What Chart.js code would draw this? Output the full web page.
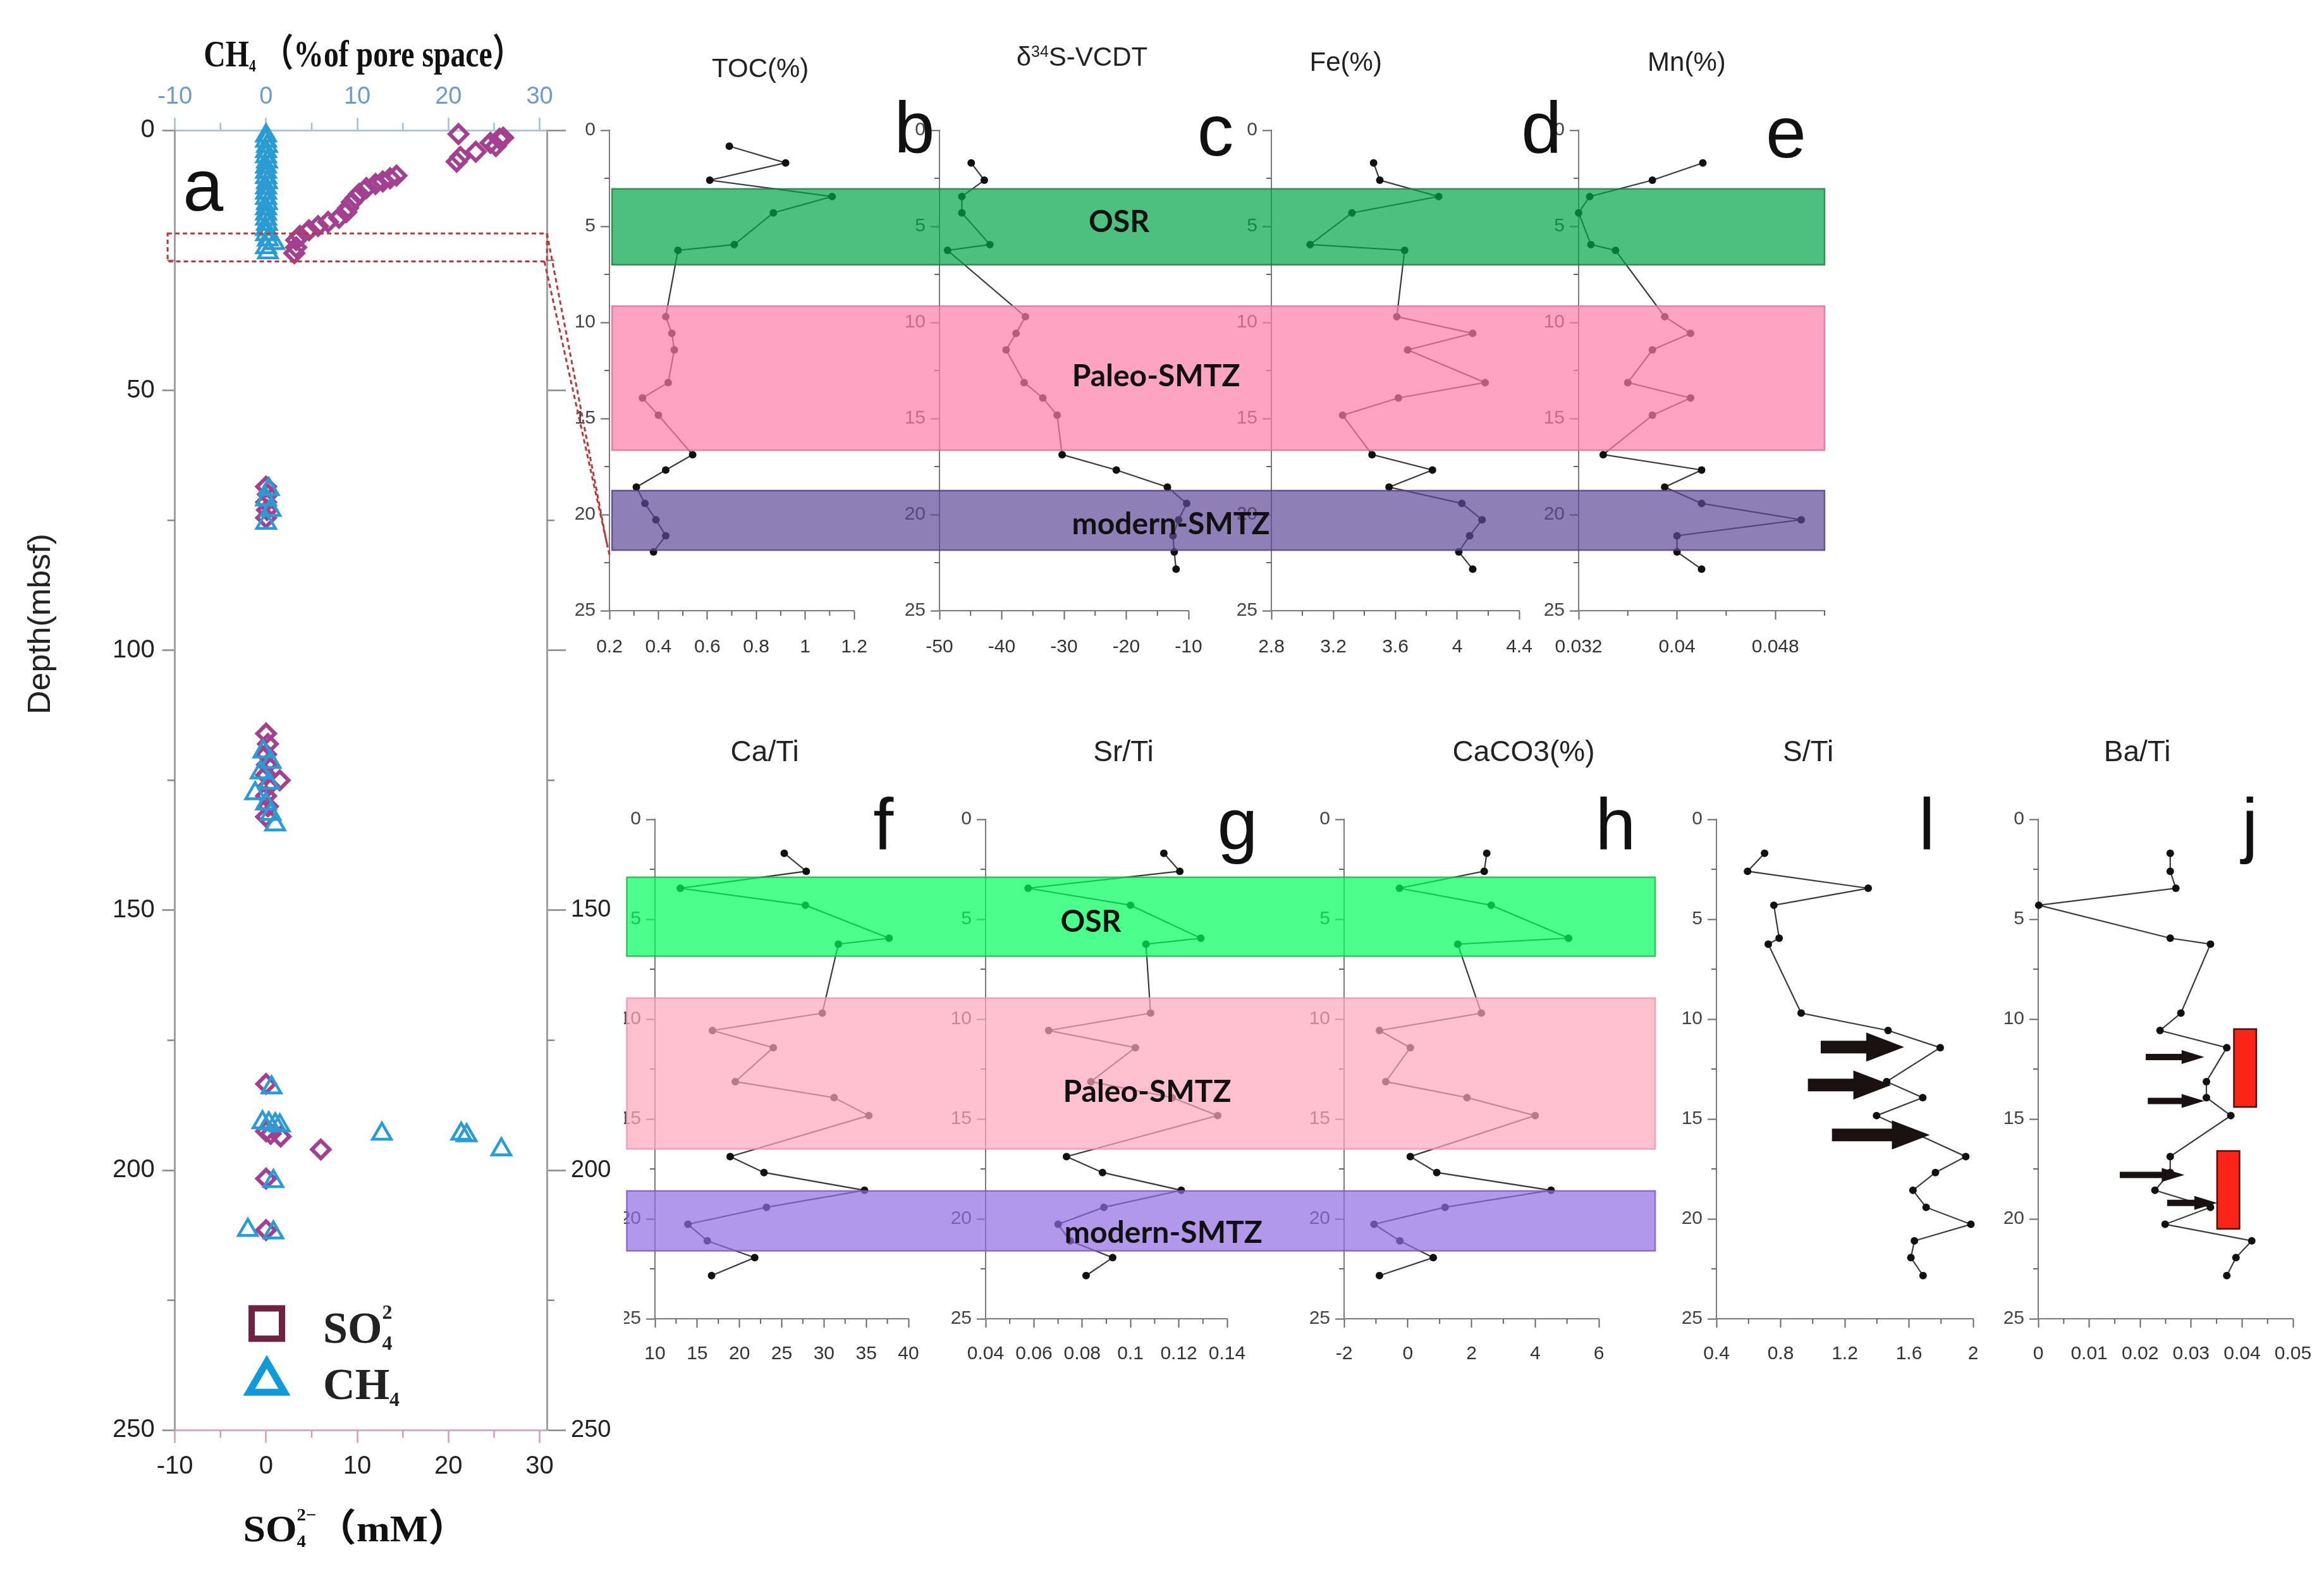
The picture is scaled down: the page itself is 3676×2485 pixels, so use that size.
<!DOCTYPE html>
<html><head><meta charset="utf-8">
<script src="https://cdn.jsdelivr.net/npm/chart.js@4.4.1/dist/chart.umd.min.js"></script>
<style>
html,body{margin:0;padding:0;background:#fff;width:3676px;height:2485px;overflow:hidden;position:relative}
canvas{position:absolute}
</style></head><body>
<script>
// ================= DATA =================
// Panel a : pore-water profiles
const so4Depth = [0.7, 1.4, 1.6, 2.4, 3.0, 4.1, 5.1, 6.0,
  8.7, 9.2, 9.8, 10.3, 11.1, 12.2, 13.0, 13.8, 14.9, 15.7, 16.8, 17.6, 18.4, 19.2, 20.3, 21.1, 22.5, 23.6,
  68.5, 70.0, 71.5, 73.0, 74.5,
  116, 118, 120, 122, 124, 125, 126, 128, 130, 132,
  183.4, 192.5, 193.0, 193.5, 196.0, 201.6, 211.5];
const so4Conc = [21.1, 26.0, 25.6, 24.6, 25.2, 23.0, 21.3, 20.9,
  14.3, 13.6, 12.8, 12.0, 11.0, 10.2, 9.8, 9.4, 9.0, 8.8, 8.0, 6.8, 5.7, 4.7, 3.7, 3.3, 3.3, 3.1,
  0.0, 0.2, 0.0, 0.1, 0.0,
  0.0, 0.2, 0.0, 0.1, 0.0, 1.5, 0.3, 0.0, 0.2, 0.0,
  0.0, 0.0, 0.5, 1.6, 6.0, 0.0, 0.0];
const ch4Depth = [1.0, 2.0, 3.0, 4.0, 5.0, 6.0, 7.0, 8.0, 9.0, 10.0, 11.0, 12.0, 13.0, 14.0, 15.0, 16.0, 17.0, 18.0, 19.0, 20.0, 21.0, 21.7, 22.5, 23.5,
  69.0, 71.0, 73.0, 75.5,
  119.5, 121.5, 123.5, 125.5, 127.5, 129.5, 131.5, 133.5,
  184.1, 190.8, 191.0, 191.2, 191.4, 193.0, 193.0, 193.3, 196.0, 202.1, 211.5, 212.0];
const ch4Pct = [0.0, 0.0, 0.1, 0.0, 0.0, 0.1, 0.0, 0.0, 0.0, 0.1, 0.0, 0.0, 0.0, 0.1, 0.0, 0.0, 0.0, 0.1, 0.0, 0.0, 0.2, 0.9, 0.0, 0.2,
  0.3, 0.0, 0.5, 0.0,
  -0.3, 0.5, -0.6, 0.3, -1.2, 0.0, 0.5, 1.0,
  0.6, -0.4, 0.3, 1.0, 1.5, 12.7, 21.4, 22.0, 25.8, 0.8, -2.0, 0.8];

// Sediment samples (depth, mbsf)
const sampleDepth = [1.7, 2.6, 3.45, 4.3, 5.95, 6.25, 9.7, 10.57, 11.43, 13.13, 13.93, 14.83, 16.88, 17.68, 18.57, 19.42, 20.27, 21.1, 21.94, 22.84];
const tocDepth = [0.83, 1.7, 2.6, 3.45, 4.3, 5.95, 6.25, 9.7, 10.57, 11.43, 13.13, 13.93, 14.83, 16.88, 17.68, 18.57, 19.42, 20.27, 21.1, 21.94];
const tocPct = [0.69, 0.92, 0.61, 1.11, 0.87, 0.71, 0.48, 0.43, 0.455, 0.465, 0.44, 0.335, 0.40, 0.54, 0.43, 0.31, 0.345, 0.39, 0.43, 0.38];
const d34S = [-44.9, -42.8, -46.4, -46.4, -41.9, -48.7, -36.2, -37.7, -39.3, -36.4, -33.4, -31.1, -30.3, -21.6, -13.4, -10.3, -11.6, -12.5, -12.3, -12.0];
const fePct = [3.46, 3.50, 3.88, 3.32, 3.05, 3.66, 3.61, 4.10, 3.68, 4.18, 3.62, 3.26, 3.45, 3.84, 3.56, 4.03, 4.16, 4.08, 4.01, 4.10];
const mnPct = [0.0421, 0.0380, 0.0329, 0.0320, 0.0330, 0.0350, 0.0390, 0.0411, 0.0380, 0.0360, 0.0411, 0.0380, 0.0340, 0.0420, 0.0390, 0.0420, 0.0501, 0.0400, 0.0400, 0.0420];
const caTi = [25.3, 27.9, 13.0, 27.8, 37.7, 31.7, 29.8, 16.8, 24.0, 19.5, 31.2, 35.3, 18.9, 22.9, 34.8, 23.2, 13.9, 16.2, 21.8, 16.7];
const srTi = [0.1138, 0.1204, 0.0576, 0.1000, 0.1291, 0.1064, 0.1083, 0.0661, 0.1020, 0.0836, 0.1173, 0.1361, 0.0735, 0.0884, 0.1210, 0.0890, 0.0700, 0.0750, 0.0926, 0.0816];
const caco3Pct = [2.48, 2.40, -0.26, 2.62, 5.05, 1.57, 2.31, -0.89, 0.08, -0.69, 1.86, 4.0, 0.08, 0.91, 4.5, 1.17, -1.06, -0.25, 0.8, -0.89];
const sTi = [0.70, 0.594, 1.346, 0.758, 0.791, 0.723, 0.928, 1.47, 1.795, 1.461, 1.686, 1.398, 1.954, 1.765, 1.625, 1.707, 1.986, 1.634, 1.612, 1.688];
const baTi = [0.0259, 0.0259, 0.0270, 0.0001, 0.0259, 0.0338, 0.0280, 0.0239, 0.0370, 0.0330, 0.0330, 0.0378, 0.0259, 0.0259, 0.0229, 0.0338, 0.0249, 0.0419, 0.0388, 0.0370];

// zones (depth top, depth bottom)
const zoneNames = ['OSR', 'Paleo-SMTZ', 'modern-SMTZ'];
const zonesTop = [[3.05, 7.0], [9.15, 16.65], [18.75, 21.85]];
const zonesBottom = [[2.9, 6.85], [8.95, 16.5], [18.6, 21.6]];

// annotation marks (depth, from value, to value)
const sTiArrowDepth = [11.4, 13.3, 15.8], sTiArrowFrom = [1.05, 0.97, 1.12], sTiArrowTo = [1.57, 1.49, 1.73];
const baTiArrowDepth = [11.9, 14.1, 17.8, 19.2], baTiArrowFrom = [0.0211, 0.0215, 0.0160, 0.0253], baTiArrowTo = [0.0326, 0.0326, 0.0287, 0.0351];
const baTiRectTop = [10.5, 16.6], baTiRectBottom = [14.4, 20.5], baTiRectFrom = [0.0384, 0.0351], baTiRectTo = [0.0428, 0.0395];

// tick values
const aConcTicks = [-10, 0, 10, 20, 30], aConcMinor = [-5, 5, 15, 25];
const aDepthTicks = [0, 50, 100, 150, 200, 250], aDepthMinor = [25, 75, 125, 175, 225];
const depthTicks = [0, 5, 10, 15, 20, 25], depthMinor = [2.5, 7.5, 12.5, 17.5, 22.5];
const tocTicks = [0.2, 0.4, 0.6, 0.8, 1, 1.2], tocMinor = [0.3, 0.5, 0.7, 0.9, 1.1];
const d34Ticks = [-50, -40, -30, -20, -10], d34Minor = [-45, -35, -25, -15];
const feTicks = [2.8, 3.2, 3.6, 4, 4.4], feMinor = [3, 3.4, 3.8, 4.2];
const mnTicks = [0.032, 0.04, 0.048], mnMinor = [0.036, 0.044, 0.052];
const caTiTicks = [10, 15, 20, 25, 30, 35, 40], caTiMinor = [12.5, 17.5, 22.5, 27.5, 32.5, 37.5];
const srTiTicks = [0.04, 0.06, 0.08, 0.1, 0.12, 0.14], srTiMinor = [0.05, 0.07, 0.09, 0.11, 0.13];
const caco3Ticks = [-2, 0, 2, 4, 6], caco3Minor = [-1, 1, 3, 5];
const sTiTicks = [0.4, 0.8, 1.2, 1.6, 2], sTiMinor = [0.6, 1, 1.4, 1.8];
const baTiTicks = [0, 0.01, 0.02, 0.03, 0.04, 0.05], baTiMinor = [0.005, 0.015, 0.025, 0.035, 0.045];

// ================= LAYOUT =================
const S = 3676 / 1568;   // layout constants are given in 1568-wide units
const SANS = "'Liberation Sans', Arial, sans-serif";
const SERIF = "'Liberation Serif', 'Times New Roman', 'Noto Sans CJK SC', serif";
Chart.defaults.font.family = SANS;
Chart.defaults.color = '#333';

function fmt(v) { return String(Math.round(v * 100000) / 100000); }

function makeCanvas(x, y, w, h, z) {
  const c = document.createElement('canvas');
  c.width = Math.round(w); c.height = Math.round(h);
  c.style.left = Math.round(x) + 'px'; c.style.top = Math.round(y) + 'px';
  c.style.width = Math.round(w) + 'px'; c.style.height = Math.round(h) + 'px';
  c.style.zIndex = z;
  document.body.appendChild(c);
  return c;
}

const minorTickPlugin = {
  id: 'minorTicks',
  afterDraw(chart, args, opts) {
    const ctx = chart.ctx, a = chart.chartArea;
    ctx.save();
    (opts.list || []).forEach(m => {
      const sc = chart.scales[m.id];
      ctx.strokeStyle = m.color; ctx.lineWidth = m.width || 2;
      m.values.forEach(v => {
        const p = sc.getPixelForValue(v);
        ctx.beginPath();
        if (m.side === 'bottom') { ctx.moveTo(p, a.bottom); ctx.lineTo(p, a.bottom + m.len); }
        if (m.side === 'top') { ctx.moveTo(p, a.top); ctx.lineTo(p, a.top - m.len); }
        if (m.side === 'left') { ctx.moveTo(a.left, p); ctx.lineTo(a.left - m.len, p); }
        if (m.side === 'right') { ctx.moveTo(a.right, p); ctx.lineTo(a.right + m.len, p); }
        ctx.stroke();
      });
    });
    ctx.restore();
  }
};

const whiteBg = {
  id: 'whiteBg',
  beforeDraw(chart) { const c = chart.ctx; c.save(); c.fillStyle = '#fff'; c.fillRect(0, 0, chart.width, chart.height); c.restore(); }
};

function arrow(ctx, x0, x1, y, hs, hh, hl, color) {
  ctx.fillStyle = color;
  ctx.beginPath();
  ctx.moveTo(x0, y - hs); ctx.lineTo(x1 - hl, y - hs); ctx.lineTo(x1 - hl, y - hh);
  ctx.lineTo(x1, y); ctx.lineTo(x1 - hl, y + hh); ctx.lineTo(x1 - hl, y + hs); ctx.lineTo(x0, y + hs);
  ctx.closePath(); ctx.fill();
}

const marksPlugin = {
  id: 'marks',
  afterDatasetsDraw(chart, args, opts) {
    if (!opts.kind) return;
    const ctx = chart.ctx, xs = chart.scales.x, ys = chart.scales.y;
    ctx.save();
    if (opts.kind === 'sTi') {
      sTiArrowDepth.forEach((d, i) => arrow(ctx, xs.getPixelForValue(sTiArrowFrom[i]), xs.getPixelForValue(sTiArrowTo[i]), ys.getPixelForValue(d), 10, 23, 60, '#1a1111'));
    }
    if (opts.kind === 'baTi') {
      baTiRectTop.forEach((d, i) => {
        const x0 = xs.getPixelForValue(baTiRectFrom[i]), x1 = xs.getPixelForValue(baTiRectTo[i]);
        const y0 = ys.getPixelForValue(d), y1 = ys.getPixelForValue(baTiRectBottom[i]);
        ctx.fillStyle = '#fb2416'; ctx.fillRect(x0, y0, x1 - x0, y1 - y0);
        ctx.strokeStyle = '#4a1010'; ctx.lineWidth = 2.5; ctx.strokeRect(x0, y0, x1 - x0, y1 - y0);
      });
      baTiArrowDepth.forEach((d, i) => arrow(ctx, xs.getPixelForValue(baTiArrowFrom[i]), xs.getPixelForValue(baTiArrowTo[i]), ys.getPixelForValue(d), 5, 11, 36, '#1a1111'));
    }
    ctx.restore();
  }
};

function fixedScale(size, horizontal) {
  return s => { if (horizontal) s.height = size; else s.width = size; s.paddingLeft = 0; s.paddingRight = 0; s.paddingTop = 0; s.paddingBottom = 0; };
}
function setTicks(values) { return s => { s.ticks = values.map(v => ({ value: v })); }; }

function depthPanel(cfg) {
  const L = cfg.box[0] * S, R = cfg.box[1] * S, T = cfg.box[2] * S, B = cfg.box[3] * S;
  const padL = 110, padR = 40, padT = 30, padB = 90;
  const canvas = makeCanvas(L - padL, T - padT, R - L + padL + padR, B - T + padT + padB, cfg.z);
  return new Chart(canvas.getContext('2d'), {
    type: 'scatter',
    data: { datasets: [{
      data: cfg.depth.map((d, i) => ({ x: cfg.values[i], y: d })),
      showLine: true, borderColor: '#3a3a3a', borderWidth: 2.2, tension: 0, clip: false,
      pointRadius: 6, pointHoverRadius: 6, pointBackgroundColor: '#111', pointBorderColor: '#111', pointBorderWidth: 0
    }] },
    options: {
      responsive: false, animation: false, devicePixelRatio: 1, events: [],
      layout: { autoPadding: false, padding: { left: 0, right: padR, top: padT, bottom: 0 } },
      plugins: { legend: { display: false }, tooltip: { enabled: false },
        minorTicks: { list: [
          { id: 'x', side: 'bottom', values: cfg.minor, len: 8, color: '#666' },
          { id: 'y', side: 'left', values: depthMinor, len: 8, color: '#666' }] },
        marks: { kind: cfg.kind || null } },
      scales: {
        x: { type: 'linear', position: 'bottom', min: cfg.xMin, max: cfg.xMax,
          afterFit: fixedScale(padB, true), afterBuildTicks: setTicks(cfg.major),
          ticks: { autoSkip: false, maxRotation: 0, minRotation: 0, color: '#333', font: { size: 30 }, padding: cfg.xPad, callback: v => fmt(v) },
          grid: { display: true, drawOnChartArea: false, drawTicks: true, tickLength: 14, tickColor: '#666', tickWidth: 2 },
          border: { display: true, color: '#7a7a7a', width: 2 } },
        y: { type: 'linear', position: 'left', reverse: true, min: 0, max: 25,
          afterFit: fixedScale(padL, false), afterBuildTicks: setTicks(depthTicks),
          ticks: { autoSkip: false, color: '#444', font: { size: 30 }, padding: 8, callback: v => fmt(v) },
          grid: { display: true, drawOnChartArea: false, drawTicks: true, tickLength: 14, tickColor: '#666', tickWidth: 2 },
          border: { display: true, color: '#7a7a7a', width: 2 } }
      }
    },
    plugins: [minorTickPlugin, marksPlugin]
  });
}

// ---------- panel a ----------
function panelA() {
  const W = 421 * S, H = 2485;
  const L = 118 * S, R = 369 * S, T = 88 * S, B = 965 * S;
  const canvas = makeCanvas(0, 0, W, H, 2);
  const gridBase = { display: true, drawOnChartArea: false, drawTicks: true, tickWidth: 2.5 };
  return new Chart(canvas.getContext('2d'), {
    type: 'scatter',
    data: { datasets: [
      { label: 'CH4', xAxisID: 'xT', yAxisID: 'yL', data: ch4Depth.map((d, i) => ({ x: ch4Pct[i], y: d })),
        pointStyle: 'triangle', pointRadius: 17, pointHoverRadius: 17, borderColor: '#2a9bd3', backgroundColor: 'rgba(255,255,255,0)', borderWidth: 4.5, clip: false },
      { label: 'SO4', xAxisID: 'xB', yAxisID: 'yL', data: so4Depth.map((d, i) => ({ x: so4Conc[i], y: d })),
        pointStyle: 'rectRot', pointRadius: 14, pointHoverRadius: 14, borderColor: '#a3408f', backgroundColor: 'rgba(255,255,255,0)', borderWidth: 6, clip: false }
    ] },
    options: {
      responsive: false, animation: false, devicePixelRatio: 1, events: [],
      layout: { autoPadding: false, padding: 0 },
      plugins: { legend: { display: false }, tooltip: { enabled: false },
        minorTicks: { list: [
          { id: 'xB', side: 'bottom', values: aConcMinor, len: 12, color: '#d59ab9', width: 2.5 },
          { id: 'xT', side: 'top', values: aConcMinor, len: 12, color: '#9dbfdc', width: 2.5 },
          { id: 'yL', side: 'left', values: aDepthMinor, len: 12, color: '#888', width: 2.5 },
          { id: 'yR', side: 'right', values: aDepthMinor, len: 12, color: '#888', width: 2.5 }] } },
      scales: {
        xB: { type: 'linear', position: 'bottom', min: -10, max: 30.8,
          afterFit: fixedScale(H - B, true), afterBuildTicks: setTicks(aConcTicks),
          ticks: { autoSkip: false, maxRotation: 0, color: '#222', font: { size: 40 }, padding: 14, callback: v => fmt(v) },
          grid: Object.assign({}, gridBase, { tickLength: 20, tickColor: '#d59ab9' }),
          border: { display: true, color: '#dba6c4', width: 3 } },
        xT: { type: 'linear', position: 'top', min: -10, max: 30.8,
          afterFit: fixedScale(T, true), afterBuildTicks: setTicks(aConcTicks),
          ticks: { autoSkip: false, maxRotation: 0, color: '#6f9acb', font: { size: 38 }, padding: 10, callback: v => fmt(v) },
          grid: Object.assign({}, gridBase, { tickLength: 20, tickColor: '#9dbfdc' }),
          border: { display: true, color: '#a9c9e3', width: 3 } },
        yL: { type: 'linear', position: 'left', reverse: true, min: 0, max: 250,
          afterFit: fixedScale(L, false), afterBuildTicks: setTicks(aDepthTicks),
          ticks: { autoSkip: false, color: '#222', font: { size: 40 }, padding: 12, callback: v => fmt(v) },
          grid: Object.assign({}, gridBase, { tickLength: 20, tickColor: '#888' }),
          border: { display: true, color: '#a0a0a0', width: 3 } },
        yR: { type: 'linear', position: 'right', reverse: true, min: 0, max: 250,
          afterFit: fixedScale(W - R, false), afterBuildTicks: setTicks(aDepthTicks),
          ticks: { autoSkip: false, color: '#222', font: { size: 38 }, padding: 8, callback: v => (v >= 150 ? fmt(v) : '') },
          grid: Object.assign({}, gridBase, { tickLength: 30, tickColor: '#888' }),
          border: { display: true, color: '#a0a0a0', width: 3 } }
      }
    },
    plugins: [whiteBg, minorTickPlugin]
  });
}

// ---------- build ----------
const chartA = panelA();
const charts = {
  toc: depthPanel({ box: [411, 576, 88, 412], xMin: 0.2, xMax: 1.2, major: tocTicks, minor: tocMinor, depth: tocDepth, values: tocPct, z: 3, xPad: 26 }),
  d34: depthPanel({ box: [634, 802, 88, 412], xMin: -50, xMax: -10, major: d34Ticks, minor: d34Minor, depth: sampleDepth, values: d34S, z: 3, xPad: 26 }),
  fe: depthPanel({ box: [858, 1025, 88, 412], xMin: 2.8, xMax: 4.4, major: feTicks, minor: feMinor, depth: sampleDepth, values: fePct, z: 3, xPad: 26 }),
  mn: depthPanel({ box: [1065, 1231, 88, 412], xMin: 0.032, xMax: 0.052, major: mnTicks, minor: mnMinor, depth: sampleDepth, values: mnPct, z: 3, xPad: 26 }),
  caTi: depthPanel({ box: [442, 613, 553, 890], xMin: 10, xMax: 40, major: caTiTicks, minor: caTiMinor, depth: sampleDepth, values: caTi, z: 1, xPad: 24 }),
  srTi: depthPanel({ box: [665, 828, 553, 890], xMin: 0.04, xMax: 0.14, major: srTiTicks, minor: srTiMinor, depth: sampleDepth, values: srTi, z: 1, xPad: 24 }),
  caco3: depthPanel({ box: [907, 1079, 553, 890], xMin: -2, xMax: 6, major: caco3Ticks, minor: caco3Minor, depth: sampleDepth, values: caco3Pct, z: 1, xPad: 24 }),
  sTi: depthPanel({ box: [1158, 1331, 553, 890], xMin: 0.4, xMax: 2, major: sTiTicks, minor: sTiMinor, depth: sampleDepth, values: sTi, z: 1, kind: 'sTi', xPad: 24 }),
  baTi: depthPanel({ box: [1375, 1547, 553, 890], xMin: 0, xMax: 0.05, major: baTiTicks, minor: baTiMinor, depth: sampleDepth, values: baTi, z: 1, kind: 'baTi', xPad: 24 })
};

// ---------- overlay (zones, labels, connectors) ----------
function px(ch, id, v) { return ch.canvas.offsetLeft + ch.scales[id].getPixelForValue(v); }
function py(ch, id, v) { return ch.canvas.offsetTop + ch.scales[id].getPixelForValue(v); }

function rich(ctx, parts, x, y, o) {
  const font = p => `${o.weight || 'normal'} ${Math.round(o.size * (p.s || 1))}px ${o.family}`;
  let total = 0;
  parts.forEach(p => { ctx.font = font(p); p.w = ctx.measureText(p.t).width; if (!p.noAdv) total += p.w; });
  const sx = o.width ? o.width / total : 1;
  ctx.save();
  ctx.translate(x, y); ctx.scale(sx, 1);
  ctx.fillStyle = o.color || '#111'; ctx.textBaseline = 'alphabetic'; ctx.textAlign = 'left';
  let cx = o.align === 'left' ? 0 : -total / 2;
  parts.forEach(p => { ctx.font = font(p); ctx.fillText(p.t, cx, (p.dy || 0) * o.size); if (!p.noAdv) cx += p.w; });
  ctx.restore();
}

function drawOverlay() {
  const ov = makeCanvas(0, 0, 3676, 2485, 10);
  ov.style.pointerEvents = 'none';
  const ctx = ov.getContext('2d');
  const topFill = ['rgba(1,165,74,0.7)', 'rgba(255,124,169,0.7)', 'rgba(94,74,151,0.7)'];
  const topEdge = ['rgba(30,120,60,0.8)', 'rgba(215,110,150,0.8)', 'rgba(80,60,130,0.8)'];
  const botFill = ['rgba(0,255,91,0.7)', 'rgba(255,165,188,0.7)', 'rgba(145,108,225,0.7)'];
  const botEdge = ['rgba(40,170,80,0.8)', 'rgba(230,150,175,0.8)', 'rgba(120,90,190,0.8)'];
  // top row zones
  const tx0 = px(charts.toc, 'x', 0.2) + 4, tx1 = px(charts.mn, 'x', 0.052);
  zonesTop.forEach((z, i) => {
    const y0 = py(charts.toc, 'y', z[0]), y1 = py(charts.toc, 'y', z[1]);
    ctx.fillStyle = topFill[i]; ctx.fillRect(tx0, y0, tx1 - tx0, y1 - y0);
    ctx.strokeStyle = topEdge[i]; ctx.lineWidth = 2.5; ctx.strokeRect(tx0, y0, tx1 - tx0, y1 - y0);
  });
  // bottom row zones
  const bx0 = px(charts.caTi, 'x', 10) - 19 * S, bx1 = px(charts.caco3, 'x', 6) + 38 * S;
  zonesBottom.forEach((z, i) => {
    const y0 = py(charts.caTi, 'y', z[0]), y1 = py(charts.caTi, 'y', z[1]);
    ctx.fillStyle = botFill[i]; ctx.fillRect(bx0, y0, bx1 - bx0, y1 - y0);
    ctx.strokeStyle = botEdge[i]; ctx.lineWidth = 2.5; ctx.strokeRect(bx0, y0, bx1 - bx0, y1 - y0);
  });
  // zone labels
  ctx.fillStyle = '#111'; ctx.textAlign = 'center'; ctx.textBaseline = 'middle';
  ctx.font = "bold 48px Lato, 'Open Sans', sans-serif";
  const topLab = [[755, 150], [780, 254], [790, 354]], botLab = [[736, 622], [774, 737], [785, 832]];
  zoneNames.forEach((n, i) => {
    ctx.fillText(n, topLab[i][0] * S, topLab[i][1] * S);
    ctx.fillText(n, botLab[i][0] * S, botLab[i][1] * S);
  });

  // connector (zoom frame)
  ctx.save();
  ctx.strokeStyle = '#b53a3a'; ctx.lineWidth = 3; ctx.setLineDash([7, 5]);
  const rx0 = px(chartA, 'xB', -10.8), rx1 = px(chartA, 'xB', 30.8);
  const ry0 = py(chartA, 'yL', 19.8), ry1 = py(chartA, 'yL', 25.2);
  ctx.strokeRect(rx0, ry0, rx1 - rx0, ry1 - ry0);
  const tx = px(charts.toc, 'x', 0.2);
  ctx.beginPath(); ctx.moveTo(rx1, ry0); ctx.lineTo(tx - 3, py(charts.toc, 'y', 21.7)); ctx.stroke();
  ctx.beginPath(); ctx.moveTo(rx1 - 4, ry1); ctx.lineTo(tx, py(charts.toc, 'y', 22.1)); ctx.stroke();
  ctx.restore();

  // panel titles
  ctx.fillStyle = '#222'; ctx.textAlign = 'center'; ctx.textBaseline = 'middle';
  ctx.font = `42px ${SANS}`;
  [['TOC(%)', 513, 47], ['Fe(%)', 908, 43], ['Mn(%)', 1138, 43]].forEach(t => ctx.fillText(t[0], t[1] * S, t[2] * S));
  ctx.font = `46px ${SANS}`;
  [['Ca/Ti', 516, 508], ['Sr/Ti', 758, 508], ['CaCO3(%)', 1028, 508], ['S/Ti', 1220, 508], ['Ba/Ti', 1442, 508]].forEach(t => ctx.fillText(t[0], t[1] * S, t[2] * S));
  rich(ctx, [{ t: 'δ' }, { t: '34', s: 0.6, dy: -0.33 }, { t: 'S-VCDT' }], 730 * S, 38 * S + 15, { family: SANS, size: 42, color: '#222' });

  // panel letters
  ctx.font = `115px ${SANS}`; ctx.fillStyle = '#111'; ctx.textBaseline = 'alphabetic';
  [['a', 137, 142], ['b', 617, 103], ['c', 820, 105], ['d', 1040, 103], ['e', 1205, 106],
   ['f', 596, 573], ['g', 835, 573], ['h', 1090, 573], ['l', 1300, 573], ['j', 1518, 573]]
    .forEach(t => ctx.fillText(t[0], t[1] * S, t[2] * S));

  // panel a axis titles
  rich(ctx, [{ t: 'CH' }, { t: '4', s: 0.45, dy: 0.12 }, { t: ' （%of pore space）' }], 245 * S, 45 * S,
    { family: SERIF, weight: 'bold', size: 60, color: '#111', width: 215 * S });
  rich(ctx, [{ t: 'SO' }, { t: '2−', s: 0.45, dy: -0.55, noAdv: true }, { t: '4', s: 0.45, dy: 0.14 }, { t: ' （mM）' }], 240 * S, 1040 * S,
    { family: SERIF, weight: 'bold', size: 60, color: '#111', width: 152 * S });
  ctx.save();
  ctx.translate(28 * S, 421 * S); ctx.rotate(-Math.PI / 2);
  ctx.font = `50px ${SANS}`; ctx.fillStyle = '#222'; ctx.textAlign = 'center'; ctx.textBaseline = 'middle';
  const dw = ctx.measureText('Depth(mbsf)').width; ctx.scale(122 * S / dw, 1);
  ctx.fillText('Depth(mbsf)', 0, 0);
  ctx.restore();

  // legend of panel a
  ctx.save();
  ctx.strokeStyle = '#6d2442'; ctx.lineWidth = 10;
  const lx = 180 * S, ly1 = 893 * S, ly2 = 930 * S;
  ctx.strokeRect(lx - 24, ly1 - 24, 48, 48);
  ctx.strokeStyle = '#0f9bd7'; ctx.lineWidth = 11; ctx.lineJoin = 'miter';
  ctx.beginPath(); ctx.moveTo(lx, ly2 - 26); ctx.lineTo(lx + 28, ly2 + 22); ctx.lineTo(lx - 28, ly2 + 22); ctx.closePath(); ctx.stroke();
  ctx.restore();
  rich(ctx, [{ t: 'SO' }, { t: '2', s: 0.45, dy: -0.55, noAdv: true }, { t: '4', s: 0.45, dy: 0.15 }], 218 * S, 906 * S,
    { family: SERIF, weight: 'bold', size: 70, color: '#222', align: 'left' });
  rich(ctx, [{ t: 'CH' }, { t: '4', s: 0.45, dy: 0.15 }], 218 * S, 944 * S,
    { family: SERIF, weight: 'bold', size: 70, color: '#222', align: 'left' });
}
drawOverlay();
</script>
</body></html>
